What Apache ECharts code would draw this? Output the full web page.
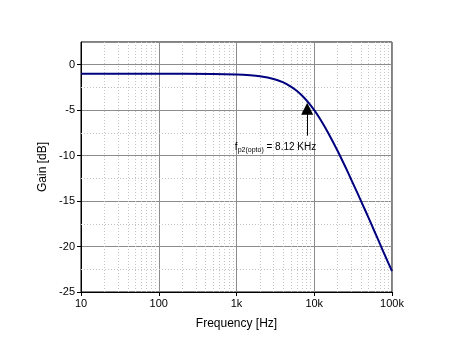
<!DOCTYPE html>
<html>
<head>
<meta charset="utf-8">
<script src="https://cdn.jsdelivr.net/npm/echarts@6/dist/echarts.min.js"></script>
<style>
  html, body { margin: 0; padding: 0; background: #fff; }
  #chart { width: 457px; height: 351px; }
</style>
</head>
<body>
<div id="chart"></div>
<script>
// frequency response
const freqs = [10, 100, 500, 1000, 1500, 2000, 3000, 4000, 5000, 6000, 7000, 8120,
  10000, 12000, 15000, 20000, 25000, 30000, 40000, 50000, 60000, 70000, 80000, 100000]
const gains = [-1.0, -1.0, -1.02, -1.07, -1.15, -1.26, -1.56, -1.94, -2.4, -2.89, -3.41, -4.01,
  -5.0, -6.03, -7.45, -9.49, -11.2, -12.66, -15.0, -16.85, -18.4, -19.7, -20.85, -22.7]
const xTickLabels = { 10: '10', 100: '100', 1000: '1k', 10000: '10k', 100000: '100k' }
const poleFreq = 8120
const arrowY = [-7.8, -4.85]
const noteAt = [3180, -9.1]

const font = 'Liberation Sans, Arial, sans-serif'

// minor decade gridlines 2..9, and half-step dB lines
let minorX = []
for (let d = 10; d < 100000; d *= 10) {
  for (let k = 2; k <= 9; k++) minorX.push(d * k)
}
let minorY = []
for (let y = -22.5; y < 0; y += 5) minorY.push(y)

const dotted = { color: '#c4c4c4', type: [1, 2], width: 1 }

let myChart = echarts.init(document.getElementById('chart'))
let option = {
  animation: false,
  textStyle: { fontFamily: font },
  grid: {
    left: 81, right: 65, top: 42, bottom: 59,
    show: true, borderColor: '#000', borderWidth: 1
  },
  xAxis: {
    type: 'log',
    logBase: 10,
    min: 10,
    max: 100000,
    name: 'Frequency [Hz]',
    nameLocation: 'middle',
    nameGap: 26,
    nameTextStyle: { fontSize: 12, color: '#000', fontFamily: font },
    axisLine: { onZero: false, lineStyle: { color: '#000', width: 1 } },
    axisTick: { length: 4, lineStyle: { color: '#000' } },
    axisLabel: {
      fontSize: 11, color: '#000', margin: 6, fontFamily: font,
      formatter: function (v) { return xTickLabels[Math.round(v)] || '' }
    },
    splitLine: { show: true, lineStyle: { color: '#8c8c8c', width: 1 } }
  },
  yAxis: {
    type: 'value',
    min: -25,
    max: 2.5,
    interval: 5,
    name: 'Gain [dB]',
    nameLocation: 'middle',
    nameGap: 30,
    nameTextStyle: { fontSize: 12, color: '#000', fontFamily: font },
    axisLine: { show: true, onZero: false, lineStyle: { color: '#000', width: 1 } },
    axisTick: { show: true, length: 4, lineStyle: { color: '#000' } },
    axisLabel: { fontSize: 11, color: '#000', margin: 6, showMaxLabel: false, fontFamily: font },
    splitLine: { show: true, lineStyle: { color: '#8c8c8c', width: 1 } }
  },
  series: [
    {
      // minor grid
      type: 'line',
      data: [],
      silent: true,
      markLine: {
        silent: true,
        symbol: ['none', 'none'],
        label: { show: false },
        lineStyle: dotted,
        data: minorX.map(function (x) {
          return [{ coord: [x, 2.5] }, { coord: [x, -25] }]
        }).concat(minorY.map(function (y) {
          return [{ coord: [10, y] }, { coord: [100000, y] }]
        }))
      }
    },
    {
      // minor ticks under the x axis
      type: 'line',
      data: [],
      silent: true,
      clip: false,
      markLine: {
        silent: true,
        symbol: ['none', 'none'],
        label: { show: false },
        lineStyle: { color: '#000', type: 'solid', width: 1 },
        data: minorX.map(function (x) {
          return [{ coord: [x, -25] }, { coord: [x, -25.25] }]
        })
      }
    },
    {
      name: 'Gain',
      type: 'line',
      data: freqs.map(function (f, i) { return [f, gains[i]] }),
      showSymbol: false,
      smooth: 0.3,
      lineStyle: { color: '#00007f', width: 2 },
      z: 5,
      markLine: {
        silent: true,
        symbol: ['none', 'triangle'],
        symbolSize: [12, 12],
        label: { show: false },
        lineStyle: { color: '#000', type: 'solid', width: 1 },
        itemStyle: { color: '#000' },
        data: [[{ coord: [poleFreq, arrowY[0]] }, { coord: [poleFreq, arrowY[1]] }]]
      },
      markPoint: {
        symbol: 'circle',
        symbolSize: 0,
        silent: true,
        data: [{ coord: noteAt }],
        label: {
          show: true,
          position: 'inside',
          formatter: '{f|f}{s|p2(opto)}{t| = 8.12 KHz}',
          rich: {
            f: { fontSize: 10, color: '#000', fontFamily: font },
            s: { fontSize: 7, color: '#000', fontFamily: font, padding: [5, 0, 0, 0] },
            t: { fontSize: 10, color: '#000', fontFamily: font }
          }
        }
      }
    }
  ]
}
myChart.setOption(option)
</script>
</body>
</html>
